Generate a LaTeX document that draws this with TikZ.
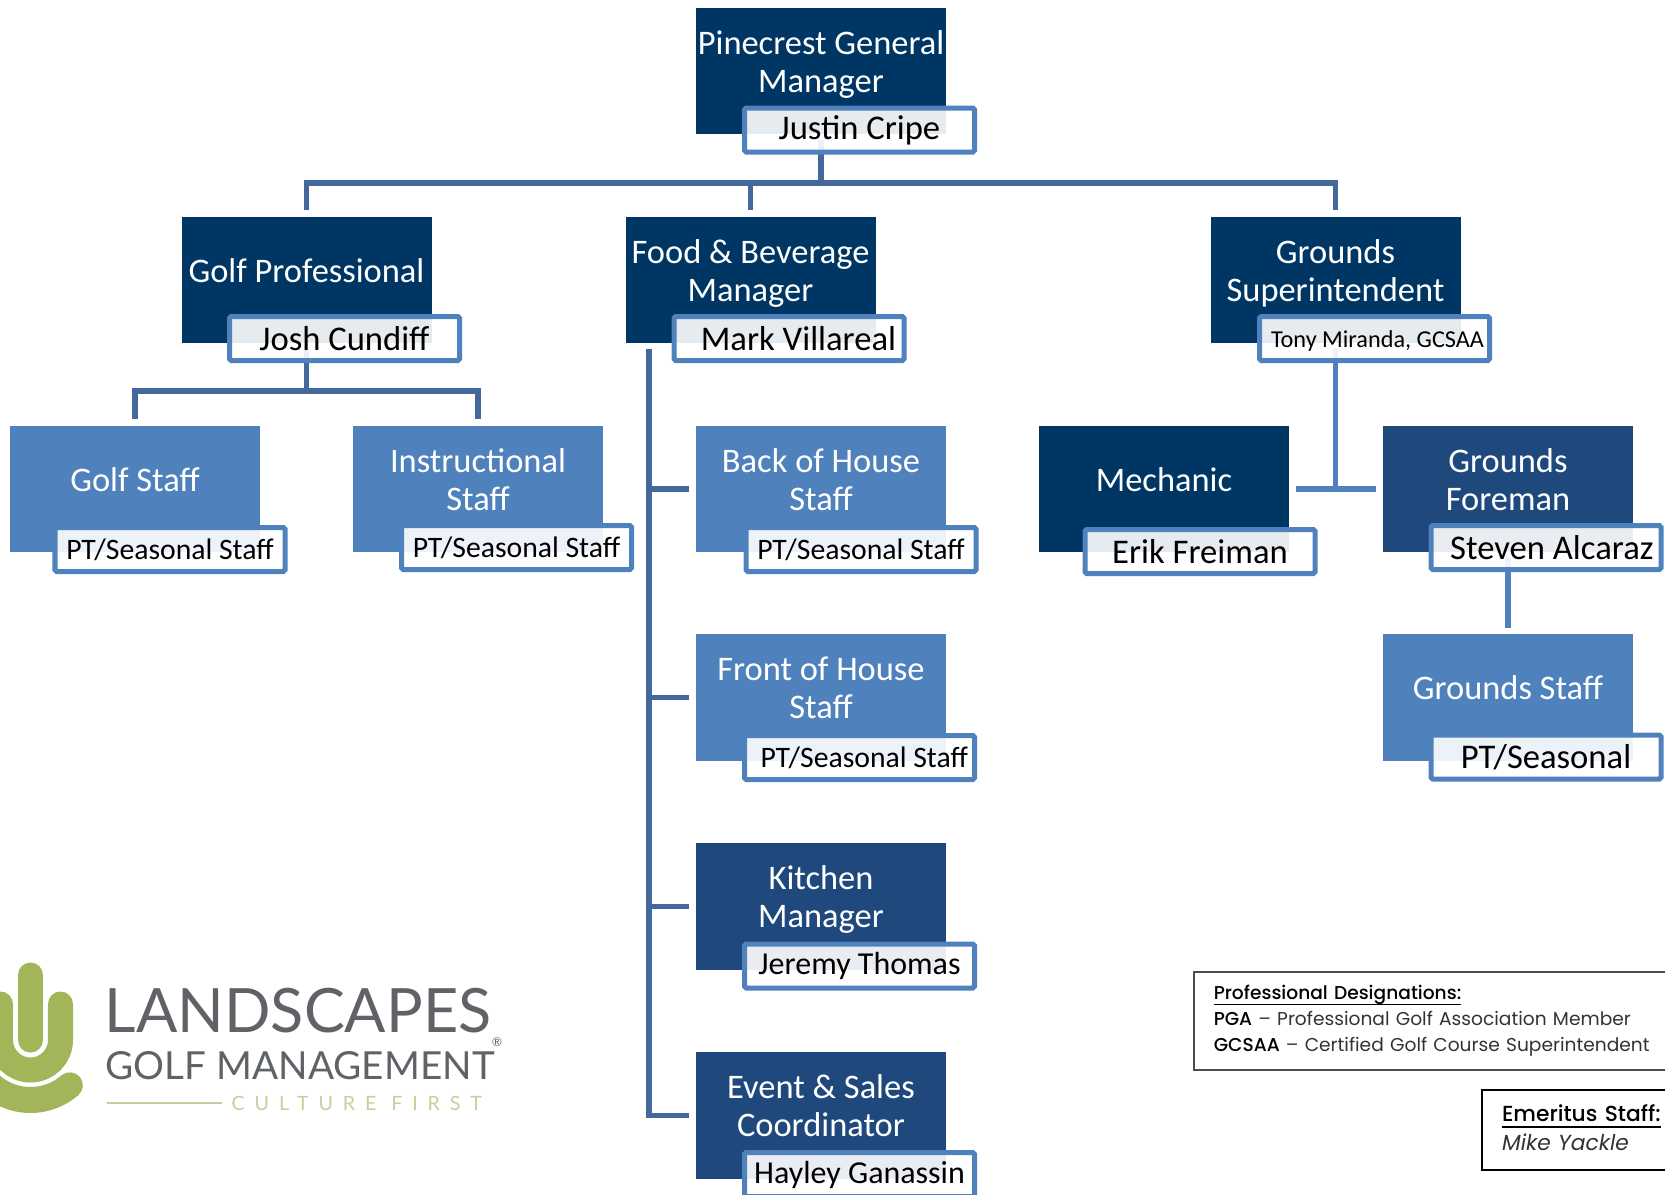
\documentclass[tikz,border=0pt]{standalone}
\usepackage{fontspec}
\setmainfont{Carlito}
\newfontfamily\legendfont[BoldFont={Poppins Medium}]{Poppins}
\newfontfamily\logofont{Lato}
\newfontfamily\logospaced[LetterSpace=50]{Lato}
\usetikzlibrary{backgrounds}
\definecolor{darkblue}{RGB}{0,54,99}
\definecolor{midblue}{RGB}{31,73,125}
\definecolor{lightblue}{RGB}{79,129,189}
\definecolor{linetop}{RGB}{68,104,156}
\definecolor{logogreen}{RGB}{163,181,89}
\definecolor{logopale}{RGB}{195,207,158}
\definecolor{logogray}{RGB}{95,98,102}

\begin{document}
\begin{tikzpicture}[
			titlenode/.style={fill=darkblue, text=white, align=center, inner sep=0pt, minimum width=2.5cm, minimum height=1.265cm, text depth=5.5pt, font=\fontsize{9.8}{10.8}\selectfont},
			midnode/.style={titlenode, fill=midblue},
			lightnode/.style={titlenode, fill=lightblue},
			namenode/.style={draw=lightblue, line width=0.05cm, rounded corners=0.5pt, fill=white, fill opacity=0.9, text opacity=1, inner sep=0pt, minimum width=2.30cm, minimum height=0.44cm, font=\fontsize{9.85}{10.8}\selectfont},
			longnamenode/.style={namenode, font=\fontsize{9.1}{10.8}\selectfont},
			staffnode/.style={namenode, font=\fontsize{8.45}{10}\selectfont},
			orgline/.style={draw=linetop, line width=0.055cm},
			lowline/.style={draw=lightblue, line width=0.055cm},
			legendnode/.style={draw, anchor=north west, align=left, inner xsep=0.2cm, inner ysep=0pt, text=black!80}
		]

		\clip (0,0) rectangle (16.65,-11.95);

		\node[titlenode] (gm) at (8.21,-0.71) {Pinecrest General \\ Manager};
		\node[namenode] (gmname) at (8.595,-1.30) {Justin Cripe};

		\node[titlenode] (gp) at (3.065,-2.80) {Golf Professional};
		\node[namenode] (gpname) at (3.445,-3.385) {Josh Cundiff};
		\node[titlenode] (fb) at (7.505,-2.80) {Food \& Beverage \\ Manager};
		\node[namenode] (fbname) at (7.89,-3.385) {\hspace*{0.19cm}Mark Villareal};
		\node[titlenode] (gsup) at (13.355,-2.80) {Grounds \\ Superintendent};
		\node[staffnode, text height=6pt, font=\fontsize{6.9}{8}\selectfont] (gsupname) at (13.745,-3.385) {\hspace*{0.06cm}Tony Miranda, GCSAA};

		\node[lightnode] (gstaff) at (1.35,-4.89) {Golf Staff};
		\node[staffnode] (gstaffname) at (1.70,-5.495) {PT/Seasonal Staff};
		\node[lightnode] (instr) at (4.78,-4.89) {Instructional \\ Staff};
		\node[staffnode] (instrname) at (5.165,-5.475) {PT/Seasonal Staff};

		\node[lightnode] (boh) at (8.21,-4.89) {Back of House \\ Staff};
		\node[staffnode] (bohname) at (8.61,-5.495) {PT/Seasonal Staff};
		\node[lightnode] (foh) at (8.21,-6.975) {Front of House \\ Staff};
		\node[staffnode] (fohname) at (8.595,-7.575) {\hspace*{0.095cm}PT/Seasonal Staff};
		\node[midnode] (kitchen) at (8.21,-9.065) {Kitchen \\ Manager};
		\node[longnamenode] (kitchenname) at (8.595,-9.66) {Jeremy Thomas};
		\node[midnode] (event) at (8.21,-11.155) {Event \& Sales \\ Coordinator};
		\node[longnamenode] (eventname) at (8.595,-11.745) {Hayley Ganassin};

		\node[titlenode] (mech) at (11.64,-4.89) {Mechanic};
		\node[namenode] (mechname) at (12.00,-5.515) {Erik Freiman};
		\node[midnode] (gf) at (15.08,-4.89) {Grounds \\ Foreman};
		\node[namenode] (gfname) at (15.46,-5.475) {\hspace*{0.117cm}Steven Alcaraz};
		\node[lightnode] (grstaff) at (15.08,-6.975) {Grounds Staff};
		\node[namenode] (grstaffname) at (15.46,-7.57) {PT/Seasonal};

		\coordinate (topbus) at (8.21,-1.83);
		\coordinate (gpbus) at (3.065,-3.91);
		\coordinate (fbtop) at (6.49,-3.49);
		\coordinate (gsupend) at (13.355,-4.89);

		\begin{scope}[on background layer]
			\draw[orgline, shorten <=0.05cm] (gm.south) -- (topbus);
			\draw[orgline, shorten >=0.06cm] (topbus) -| (gp.north);
			\draw[orgline, shorten >=0.06cm] (topbus) -| (fb.north);
			\draw[orgline, shorten >=0.06cm] (topbus) -| (gsup.north);

			\draw[orgline, shorten <=0.05cm] (gp.south) -- (gpbus);
			\draw[orgline, shorten >=0.06cm] (gpbus) -| (gstaff.north);
			\draw[orgline, shorten >=0.06cm] (gpbus) -| (instr.north);

			\draw[orgline, shorten >=0.06cm] (fbtop) |- (boh.west);
			\draw[orgline, shorten >=0.06cm] (fbtop) |- (foh.west);
			\draw[orgline, shorten >=0.06cm] (fbtop) |- (kitchen.west);
			\draw[orgline, shorten >=0.06cm] (fbtop) |- (event.west);

			\draw[lowline, shorten <=0.05cm] (gsup.south) -- (gsupend);
			\draw[lowline, shorten <=0.06cm, shorten >=0.06cm] (mech.east) -- (gf.west);
			\draw[lowline, shorten <=0.05cm, shorten >=0.06cm] (gf.south) -- (grstaff.north);
		\end{scope}

		% legend boxes
		\node[legendnode, draw=black!70, line width=0.015cm, text width=4.6cm, text height=8pt, text depth=19.9pt, font=\legendfont\fontsize{5.3}{7.4}\selectfont] (designations) at (11.93,-9.71)
			{\textcolor{black}{\underline{\smash{\textbf{Professional Designations:}}}} \\ \textcolor{black}{\textbf{PGA}} – Professional Golf Association Member \\ \textcolor{black}{\textbf{GCSAA}} – Certified Golf Course Superintendent};
		\node[legendnode, draw=black, line width=0.02cm, text width=2.6cm, text height=9.1pt, text depth=13.7pt, font=\legendfont\fontsize{6.2}{8.25}\selectfont] (emeritus) at (14.81,-10.89)
			{\textcolor{black}{\underline{\smash{\textbf{Emeritus Staff:}}}} \\ \textit{Mike Yackle}};

		% logo
		\draw[logogreen, line width=0.25cm, line cap=round] (0.305,-9.75) -- (0.305,-10.40);
		\draw[logogreen, line width=0.25cm, line cap=round] (0.605,-10.04) -- (0.605,-10.40) arc (0:-180:0.30) -- (0.005,-10.04);
		\draw[logogreen, line width=0.26cm, line cap=round] (0.305,-10.40) ++(-49:0.60) arc (-49:-150:0.60);
		\node[anchor=base west, inner sep=0pt, text=logogray, font=\logofont\fontsize{17.4}{17.4}\selectfont] (logomain) at (1.04,-10.32) {LANDSCAPES};
		\node[anchor=base west, inner sep=0pt, text=logogray, font=\logofont\fontsize{11}{11}\selectfont] (logosub) at (1.05,-10.79) {GOLF MANAGEMENT};
		\node[inner sep=0pt, text=logogray, font=\logofont\fontsize{3.5}{3.5}\selectfont] (logomark) at (4.97,-10.42) {®};
		\node[anchor=base west, inner sep=0pt, text=logopale, font=\logospaced\fontsize{5.6}{5.6}\selectfont] (logotag) at (2.31,-11.10) {CULTURE FIRST};
		\coordinate (tagline) at (1.07,-11.03);
		\draw[logopale, line width=0.015cm] (tagline) -- (2.22,-11.03);

	\end{tikzpicture}
\end{document}
